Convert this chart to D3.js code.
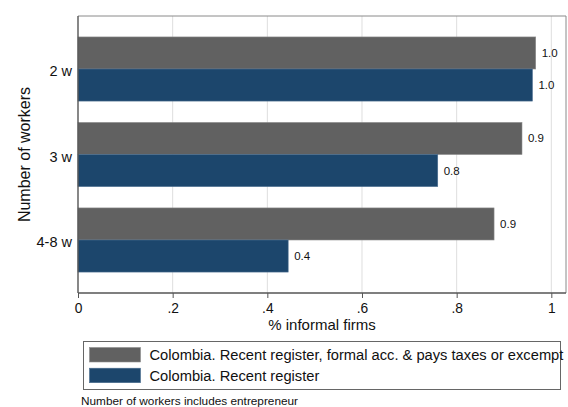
<!DOCTYPE html>
<html>
<head>
<meta charset="utf-8">
<script src="https://cdn.jsdelivr.net/npm/d3@7"></script>
<style>
  html, body { margin: 0; padding: 0; background: #fff; }
  svg { display: block; font-family: "Liberation Sans", Arial, Helvetica, sans-serif; }
</style>
</head>
<body>
<svg id="chart" width="568" height="407"></svg>
<script>
// Worker-size groups shown on the vertical axis
const categories = ["2 w", "3 w", "4-8 w"];
// Share of informal firms by definition
const seriesNames = [
  "Colombia. Recent register, formal acc. & pays taxes or excempt",
  "Colombia. Recent register"
];
const formalAccValues = [0.967, 0.938, 0.879];
const recentRegisterValues = [0.960, 0.760, 0.444];
const xTicks = [0, 0.2, 0.4, 0.6, 0.8, 1];
const xTickLabels = ["0", ".2", ".4", ".6", ".8", "1"];
const colors = ["#616161", "#1c466c"];
const strokeColors = ["#8c8c8c", "#4a6d8f"];

const series = [formalAccValues, recentRegisterValues];

const svg = d3.select("#chart");
const margin = { left: 78, top: 16, right: 2, bottom: 114 };
const W = 568, H = 407;
const x0 = margin.left, x1 = W - margin.right;
const y0 = margin.top, y1 = H - margin.bottom;

const x = d3.scaleLinear().domain([0, 1.031]).range([x0, x1]);
const y = d3.scaleBand().domain(categories).range([y0, y1]).paddingInner(0.25).paddingOuter(0.245);
const sub = d3.scaleBand().domain(d3.range(series.length)).range([0, y.bandwidth()]);

// Vertical grid lines
svg.append("g").selectAll("line").data(xTicks.slice(1)).join("line")
  .attr("x1", d => x(d)).attr("x2", d => x(d))
  .attr("y1", y0).attr("y2", y1)
  .attr("stroke", "#dedede").attr("stroke-width", 1);

// Plot frame (top and right)
svg.append("path")
  .attr("d", `M${x0},${y0}H${x1}V${y1}`)
  .attr("fill", "none").attr("stroke", "#8a8a8a").attr("stroke-width", 1);

// Bars
const rows = categories.flatMap((c, i) => series.map((s, k) => ({ c, k, v: s[i] })));
svg.append("g").selectAll("rect").data(rows).join("rect")
  .attr("x", x(0))
  .attr("y", d => y(d.c) + sub(d.k))
  .attr("width", d => x(d.v) - x(0))
  .attr("height", sub.bandwidth())
  .attr("fill", d => colors[d.k])
  .attr("stroke", d => strokeColors[d.k])
  .attr("stroke-width", 0.6);

// Value labels
const fmt = d3.format(".1f");
svg.append("g").selectAll("text").data(rows).join("text")
  .attr("x", d => x(d.v) + 6)
  .attr("y", d => y(d.c) + sub(d.k) + sub.bandwidth() / 2)
  .attr("dy", "0.35em")
  .attr("font-size", 11.5)
  .attr("fill", "#111")
  .text(d => fmt(d.v));

// X axis
const xAxis = svg.append("g")
  .attr("transform", `translate(0,${y1})`)
  .call(d3.axisBottom(x).tickValues(xTicks).tickFormat((d, i) => xTickLabels[i]).tickSize(5).tickSizeOuter(0));
xAxis.select(".domain").attr("stroke", "#555").attr("stroke-width", 1.4).attr("d", `M${x0},0H${x1}`);
xAxis.selectAll(".tick line").attr("stroke", "#555");
xAxis.selectAll(".tick text").attr("font-size", 13.8).attr("fill", "#111")
  .attr("y", 20).attr("dy", null)
  .style("font-family", "\"Liberation Sans\", Arial, sans-serif");

// Y axis
const yAxis = svg.append("g")
  .attr("transform", `translate(${x0},0)`)
  .call(d3.axisLeft(y).tickSize(0).tickPadding(6));
yAxis.select(".domain").attr("stroke", "#555").attr("stroke-width", 1.4).attr("d", `M0,${y0}V${y1}`);
yAxis.selectAll(".tick text").attr("font-size", 14.5).attr("fill", "#111").attr("dy", "0.5em")
  .style("font-family", "\"Liberation Sans\", Arial, sans-serif");

// Axis titles
svg.append("text")
  .attr("x", (x0 + x1) / 2).attr("y", 330)
  .attr("text-anchor", "middle").attr("font-size", 15).attr("fill", "#111")
  .text("% informal firms");
svg.append("text")
  .attr("transform", `translate(30,${(y0 + y1) / 2}) rotate(-90)`)
  .attr("text-anchor", "middle").attr("font-size", 16).attr("fill", "#111")
  .text("Number of workers");

// Legend
const lg = svg.append("g");
lg.append("rect").attr("x", 83.5).attr("y", 341.5).attr("width", 477).attr("height", 48)
  .attr("fill", "#fff").attr("stroke", "#666").attr("stroke-width", 1);
seriesNames.forEach((name, k) => {
  const ry = 347.5 + k * 20.7;
  lg.append("rect").attr("x", 89.5).attr("y", ry).attr("width", 51).attr("height", 14.5)
    .attr("fill", colors[k]).attr("stroke", strokeColors[k]).attr("stroke-width", 0.6);
  lg.append("text").attr("x", 149.5).attr("y", ry + 7.5).attr("dy", "0.36em")
    .attr("font-size", 14.7).attr("fill", "#111").text(name);
});

// Note
svg.append("text").attr("x", 81).attr("y", 405)
  .attr("font-size", 11.8).attr("fill", "#111")
  .text("Number of workers includes entrepreneur");
</script>
</body>
</html>
